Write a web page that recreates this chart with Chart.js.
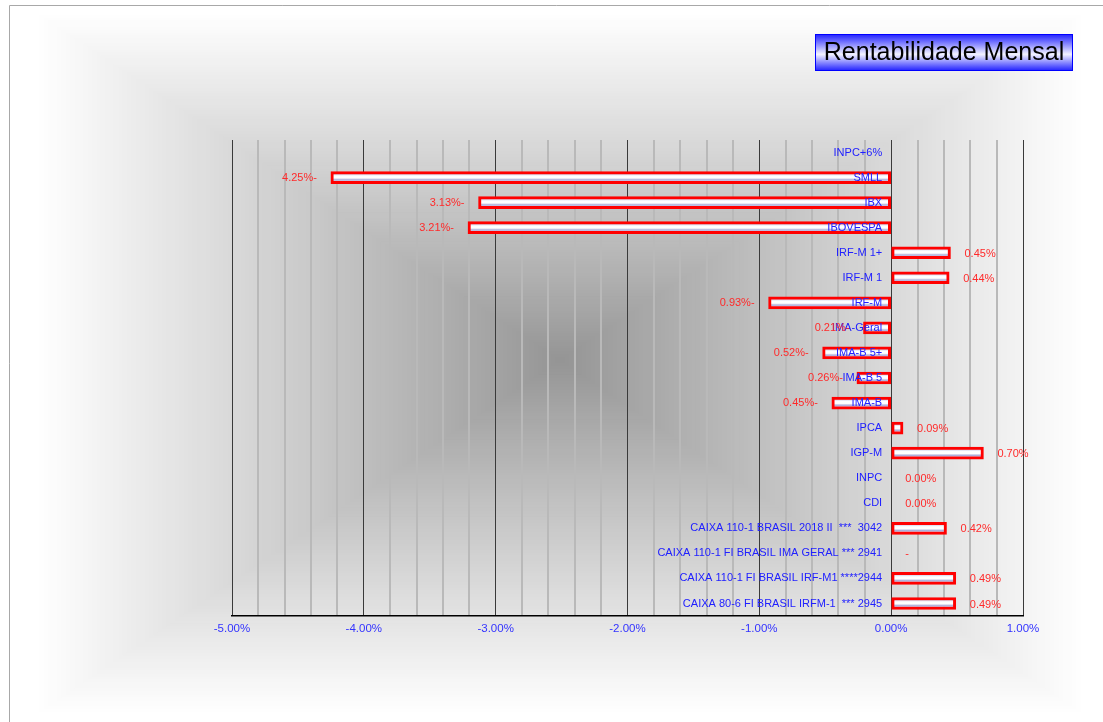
<!DOCTYPE html>
<html>
<head>
<meta charset="utf-8">
<title>Rentabilidade Mensal</title>
<script src="https://cdn.jsdelivr.net/npm/chart.js@4/dist/chart.umd.min.js"></script>
<style>
  html, body { margin: 0; padding: 0; background: #fff; overflow: hidden; }
  #wrap { width: 1103px; height: 722px; position: relative; }
</style>
</head>
<body>
<div id="wrap"><canvas id="chart"></canvas></div>
<script>
const categories = [
  'INPC+6%', 'SMLL', 'IBX', 'IBOVESPA', 'IRF-M 1+', 'IRF-M 1', 'IRF-M',
  'IMA-Geral', 'IMA-B 5+', 'IMA-B 5', 'IMA-B', 'IPCA', 'IGP-M', 'INPC', 'CDI',
  'CAIXA 110-1 BRASIL 2018 II  ***  3042',
  'CAIXA 110-1 FI BRASIL IMA GERAL *** 2941',
  'CAIXA 110-1 FI BRASIL IRF-M1 ****2944',
  'CAIXA 80-6 FI BRASIL IRFM-1  *** 2945'
];
const monthly = [null, -4.25, -3.13, -3.21, 0.45, 0.44, -0.93, -0.21, -0.52, -0.26,
  -0.45, 0.09, 0.70, 0, 0, 0.42, null, 0.49, 0.49];
const valueText = ['', '4.25%-', '3.13%-', '3.21%-', '0.45%', '0.44%', '0.93%-', '0.21%-',
  '0.52%-', '0.26%-', '0.45%-', '0.09%', '0.70%', '0.00%', '0.00%', '0.42%', '-', '0.49%', '0.49%'];
const xMin = -5;
const xMax = 1;
const chartTitle = 'Rentabilidade Mensal';

const FONT = 'Arial, "Liberation Sans", sans-serif';
const isWhole = v => Math.abs(v - Math.round(v)) < 1e-6;

// grey "pyramid" background + the thin frame of the original image
const backdrop = {
  id: 'backdrop',
  beforeDraw(chart) {
    const c = chart.ctx;
    const cx = 560, cy = 360;
    const l = 525, r = 525, t = 348, b = 355;
    c.save();
    c.fillStyle = '#fff';
    c.fillRect(0, 0, chart.width, chart.height);
    const steps = 120;
    for (let i = steps; i > 0; i--) {
      const k = i / steps;
      const g = Math.round(148 + 107 * Math.pow(k, 0.95));
      c.fillStyle = `rgb(${g},${g},${g})`;
      c.fillRect(cx - l * k, cy - t * k, (l + r) * k, (t + b) * k);
    }
    c.strokeStyle = '#a8a8a8';
    c.lineWidth = 1;
    c.beginPath();
    c.moveTo(9.5, chart.height);
    c.lineTo(9.5, 5.5);
    c.lineTo(chart.width, 5.5);
    c.stroke();
    c.restore();
  }
};

// category names next to zero, value labels beside each bar, title box
const labels = {
  id: 'labels',
  afterDatasetsDraw(chart) {
    const c = chart.ctx;
    const x = chart.scales.x, y = chart.scales.y;
    const zero = x.getPixelForValue(0);
    c.save();
    c.font = '11px ' + FONT;
    c.textBaseline = 'middle';
    categories.forEach((name, i) => {
      const py = y.getPixelForValue(i);
      c.fillStyle = '#2020ff';
      c.textAlign = 'right';
      c.fillText(name, zero - 9, py);
      const v = monthly[i];
      const txt = valueText[i];
      if (!txt) return;
      c.fillStyle = '#ff2a2a';
      if (v !== null && v < 0) {
        c.textAlign = 'right';
        c.fillText(txt, x.getPixelForValue(v) - 14, py);
      } else {
        c.textAlign = 'left';
        c.fillText(txt, x.getPixelForValue(v || 0) + 14, py + 1);
      }
    });

    // title box
    const bx = 815.5, by = 34.5, bw = 257, bh = 36;
    const grad = c.createLinearGradient(0, by, 0, by + bh);
    grad.addColorStop(0, '#2424ff');
    grad.addColorStop(0.55, '#f2f2ff');
    grad.addColorStop(1, '#2424ff');
    c.fillStyle = grad;
    c.fillRect(bx, by, bw, bh);
    c.strokeStyle = '#0000ff';
    c.lineWidth = 1;
    c.strokeRect(bx, by, bw, bh);
    c.fillStyle = '#000';
    c.font = '25px ' + FONT;
    c.textAlign = 'center';
    c.fillText(chartTitle, bx + bw / 2, by + bh / 2 + 1);
    c.restore();
  }
};

function barFill(ctx) {
  const chart = ctx.chart;
  const y = chart.scales.y;
  if (!y || ctx.dataIndex === undefined) return '#eef';
  const py = y.getPixelForValue(ctx.dataIndex);
  if (!isFinite(py)) return '#eef';
  const g = chart.ctx.createLinearGradient(0, py - 4, 0, py + 4);
  g.addColorStop(0, '#c4c8e6');
  g.addColorStop(0.3, '#ffffff');
  g.addColorStop(0.55, '#ffffff');
  g.addColorStop(0.78, '#a9acd9');
  g.addColorStop(1, '#e4e4f4');
  return g;
}

new Chart(document.getElementById('chart'), {
  type: 'bar',
  data: {
    labels: categories,
    datasets: [{
      data: monthly,
      backgroundColor: barFill,
      borderColor: '#ff0000',
      borderWidth: 3,
      borderSkipped: false,
      barThickness: 12
    }]
  },
  options: {
    indexAxis: 'y',
    responsive: true,
    maintainAspectRatio: false,
    animation: false,
    layout: { padding: { left: 232, right: 80, top: 140, bottom: 86 } },
    plugins: {
      legend: { display: false },
      title: { display: false },
      tooltip: { enabled: false }
    },
    scales: {
      x: {
        type: 'linear',
        min: xMin,
        max: xMax,
        afterFit(scale) { scale.height = 20; },
        ticks: {
          stepSize: 0.2,
          autoSkip: false,
          maxRotation: 0,
          padding: 6,
          color: '#3333ff',
          font: { family: FONT, size: 11.5 },
          callback: v => isWhole(v) ? Number(v).toFixed(2) + '%' : ''
        },
        grid: {
          drawTicks: false,
          color: ctx => isWhole(ctx.tick.value) ? '#3a3a3a' : '#b9b9b9',
          lineWidth: ctx => isWhole(ctx.tick.value) ? 1 : 2
        },
        border: { display: true, color: '#000', width: 1.5 }
      },
      y: {
        display: false,
        grid: { display: false }
      }
    }
  },
  plugins: [backdrop, labels]
});
</script>
</body>
</html>
